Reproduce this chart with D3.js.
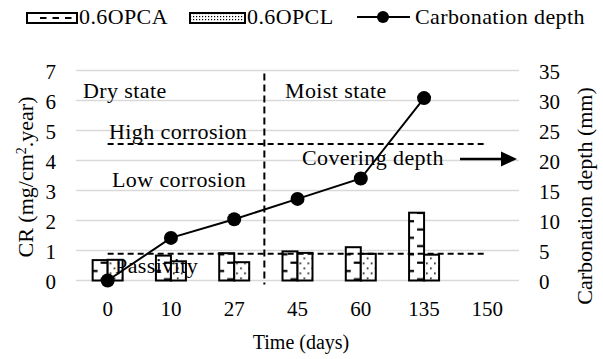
<!DOCTYPE html>
<html>
<head>
<meta charset="utf-8">
<script src="https://cdn.jsdelivr.net/npm/d3@7"></script>
<style>
  body { margin: 0; background: #fff; }
  svg { display: block; }
  text { font-family: "Liberation Serif", "Times New Roman", serif; fill: #000; }
</style>
</head>
<body>
<svg id="chart" width="603" height="359" font-family="Liberation Serif"></svg>
<script>
// data
const categories = ['0', '10', '27', '45', '60', '135', '150']
const series = ['0.6OPCA', '0.6OPCL']
const opca = [0.68, 0.83, 0.91, 0.97, 1.11, 2.26, null]
const opcl = [0.69, 0.64, 0.61, 0.92, 0.89, 0.86, null]
const depth = [0, 7.1, 10.2, 13.6, 17.0, 30.4, null]
const crTicks = [0, 1, 2, 3, 4, 5, 6, 7]
const depthTicks = [0, 5, 10, 15, 20, 25, 30, 35]
const limits = [{ name: 'High corrosion', cr: 4.55 }, { name: 'Passivity', cr: 0.89 }]

let svg = d3.select('#chart')
let plotL = 76, plotR = 519, plotT = 70.5, plotB = 280.5

let x = d3.scaleBand().domain(categories).range([plotL, plotR])
let bw = x.bandwidth()
let barW = 15
let xSub = d3.scaleBand().domain(series).range([bw / 2 - barW, bw / 2 + barW])
let y = d3.scaleLinear().domain([0, 7]).range([plotB, plotT])
let y2 = d3.scaleLinear().domain([0, 35]).range([plotB, plotT])

// patterns (bars sit in groups translated by x(c), so tiles are in group space)
let defs = svg.append('defs')
let pA = defs.append('pattern').attr('id', 'pA').attr('patternUnits', 'userSpaceOnUse')
  .attr('x', xSub(series[0])).attr('y', plotB).attr('width', bw).attr('height', 16.6)
pA.append('rect').attr('width', bw).attr('height', 16.6).attr('fill', '#fff')
pA.append('rect').attr('x', 0).attr('width', 5).attr('y', 6).attr('height', 2.2).attr('fill', '#000')
pA.append('rect').attr('x', 8).attr('width', 7).attr('y', 14.3).attr('height', 2.2).attr('fill', '#000')

let pL = defs.append('pattern').attr('id', 'pL').attr('patternUnits', 'userSpaceOnUse')
  .attr('x', xSub(series[1])).attr('y', plotB).attr('width', 8).attr('height', 10)
pL.append('rect').attr('width', 8).attr('height', 10).attr('fill', '#fff')
pL.append('rect').attr('x', 2).attr('y', 2).attr('width', 1.6).attr('height', 1.6).attr('fill', '#000')
pL.append('rect').attr('x', 6).attr('y', 7).attr('width', 1.6).attr('height', 1.6).attr('fill', '#000')

let pDots = defs.append('pattern').attr('id', 'pDots').attr('patternUnits', 'userSpaceOnUse')
  .attr('width', 3).attr('height', 3)
pDots.append('rect').attr('width', 3).attr('height', 3).attr('fill', '#fff')
pDots.append('rect').attr('x', 1).attr('y', 1).attr('width', 1.2).attr('height', 1.2).attr('fill', '#000')

// gridlines
svg.append('g').selectAll('line').data(crTicks).enter().append('line')
  .attr('x1', plotL).attr('x2', plotR)
  .attr('y1', d => y(d)).attr('y2', d => y(d))
  .attr('stroke', '#d9d9d9').attr('stroke-width', 1.3)

// axes
let axL = svg.append('g').attr('transform', 'translate(' + plotL + ',0)')
  .call(d3.axisLeft(y).tickValues(crTicks).tickFormat(d3.format('d')).tickSize(0).tickPadding(20))
let axR = svg.append('g').attr('transform', 'translate(' + plotR + ',0)')
  .call(d3.axisRight(y2).tickValues(depthTicks).tickFormat(d3.format('d')).tickSize(0).tickPadding(20))
let axB = svg.append('g').attr('transform', 'translate(0,' + plotB + ')')
  .call(d3.axisBottom(x).tickSize(0).tickPadding(21))
;[axL, axR, axB].forEach(a => {
  a.select('.domain').remove()
  a.attr('font-family', 'Liberation Serif').attr('font-size', 21)
})
axL.selectAll('text').attr('dy', '0.38em')
axR.selectAll('text').attr('dy', '0.38em')

// bars
let rows = categories.map((c, i) => ({ c: c, vals: [opca[i], opcl[i]] }))
let groups = svg.append('g').selectAll('g').data(rows).enter().append('g')
  .attr('transform', d => 'translate(' + x(d.c) + ',0)')
groups.selectAll('rect')
  .data(d => d.vals.map((v, k) => ({ s: series[k], v: v })).filter(e => e.v != null))
  .enter().append('rect')
  .attr('x', d => xSub(d.s)).attr('width', xSub.bandwidth())
  .attr('y', d => y(d.v)).attr('height', d => y(0) - y(d.v))
  .attr('fill', d => d.s === series[0] ? 'url(#pA)' : 'url(#pL)')
  .attr('stroke', '#000').attr('stroke-width', 2)

// threshold lines
let xMid = c => x(c) + bw / 2
svg.append('g').selectAll('line').data(limits).enter().append('line')
  .attr('x1', xMid(categories[0])).attr('x2', xMid(categories[categories.length - 1]))
  .attr('y1', d => y(d.cr)).attr('y2', d => y(d.cr))
  .attr('stroke', '#000').attr('stroke-width', 2).attr('stroke-dasharray', '6,4')
svg.append('line')
  .attr('x1', x('45') - 1.5).attr('x2', x('45') - 1.5)
  .attr('y1', y(6.9)).attr('y2', y(0) + 4)
  .attr('stroke', '#000').attr('stroke-width', 2).attr('stroke-dasharray', '7,4')

// annotation texts
let note = (t, px, py, fs) => svg.append('text').attr('x', px).attr('y', py)
  .attr('font-size', fs || 22).attr('letter-spacing', 0.4).text(t)
note('Dry state', 83, 98)
note('Moist state', 285, 98)
note('High corrosion', 109, 139)
note('Low corrosion', 112, 187)
note('Passivity', 115, 273)
note('Covering depth', 302, 165)
svg.append('line').attr('x1', 460).attr('x2', 503).attr('y1', 159).attr('y2', 159)
  .attr('stroke', '#000').attr('stroke-width', 2.5)
svg.append('path').attr('d', 'M501,151.5 L517,159 L501,166.5 Z').attr('fill', '#000')

// carbonation depth line
let pts = categories.map((c, i) => ({ c: c, v: depth[i] })).filter(d => d.v != null)
svg.append('path').datum(pts)
  .attr('d', d3.line().x(d => xMid(d.c)).y(d => y2(d.v)))
  .attr('fill', 'none').attr('stroke', '#000').attr('stroke-width', 2)
svg.append('g').selectAll('circle').data(pts).enter().append('circle')
  .attr('cx', d => xMid(d.c)).attr('cy', d => y2(d.v)).attr('r', 7).attr('fill', '#000')

// axis titles
let tL = svg.append('text').attr('transform', 'translate(33,177) rotate(-90)')
  .attr('text-anchor', 'middle').attr('font-size', 22)
tL.append('tspan').text('CR (mg/cm')
tL.append('tspan').attr('baseline-shift', 'super').attr('font-size', 14).text('2')
tL.append('tspan').text('.year)')
svg.append('text').attr('transform', 'translate(592,196) rotate(-90)')
  .attr('text-anchor', 'middle').attr('font-size', 22).text('Carbonation depth (mm)')
svg.append('text').attr('x', 301).attr('y', 349).attr('text-anchor', 'middle')
  .attr('font-size', 20).text('Time (days)')

// legend
let lg = svg.append('g')
lg.append('rect').attr('x', 27).attr('y', 13).attr('width', 50).attr('height', 10)
  .attr('fill', '#fff').attr('stroke', '#000').attr('stroke-width', 2)
lg.append('line').attr('x1', 40).attr('x2', 77).attr('y1', 18).attr('y2', 18)
  .attr('stroke', '#000').attr('stroke-width', 2).attr('stroke-dasharray', '6.5,6')
lg.append('text').attr('x', 79).attr('y', 24).attr('font-size', 22).attr('letter-spacing', 0.4).text(series[0])
lg.append('rect').attr('x', 190).attr('y', 13).attr('width', 55).attr('height', 10)
  .attr('fill', 'url(#pDots)').attr('stroke', '#000').attr('stroke-width', 2)
lg.append('text').attr('x', 247).attr('y', 24).attr('font-size', 22).attr('letter-spacing', 0.4).text(series[1])
lg.append('line').attr('x1', 357).attr('x2', 410).attr('y1', 17).attr('y2', 17)
  .attr('stroke', '#000').attr('stroke-width', 2)
lg.append('circle').attr('cx', 383).attr('cy', 17).attr('r', 6).attr('fill', '#000')
lg.append('text').attr('x', 415).attr('y', 24).attr('font-size', 22).attr('letter-spacing', 0.4).text('Carbonation depth')
</script>
</body>
</html>
